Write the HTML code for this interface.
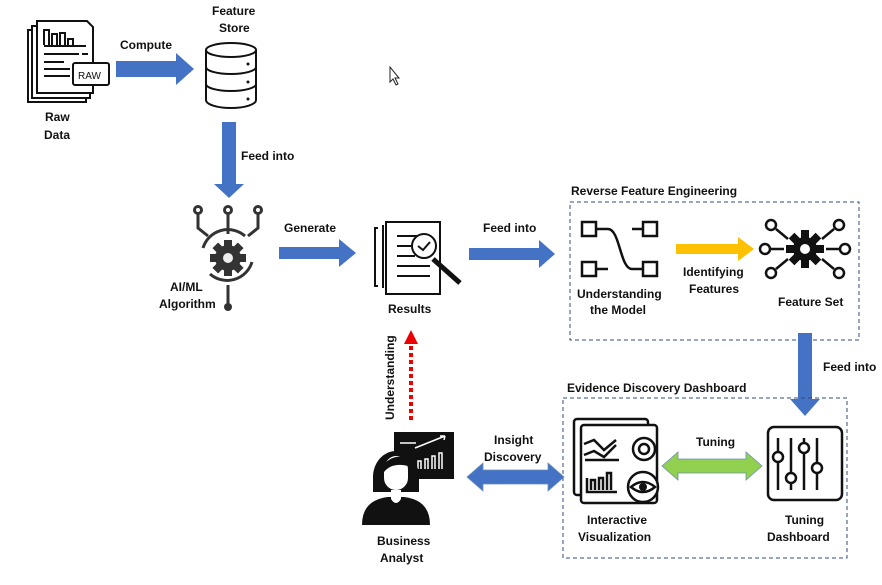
<!DOCTYPE html>
<html><head><style>
body{margin:0;background:#fff}
svg text{font-family:"Liberation Sans",sans-serif;font-weight:bold;font-size:12px;fill:#111}
</style></head><body>
<svg width="882" height="580" viewBox="0 0 882 580" xmlns="http://www.w3.org/2000/svg">
<defs>
<marker id="rh" markerWidth="8" markerHeight="8" refX="4" refY="4" orient="auto"><path d="M0,0 L8,4 L0,8z" fill="#e00"/></marker>
</defs>
<!-- Raw data icon -->
<g fill="#fff" stroke="#111" stroke-width="2">
<path d="M28,30 h50 l8,8 v64 h-58z"/>
<path d="M32,26 h50 l8,8 v64 h-58z"/>
<path d="M37,21 h50 l6,6 v66 h-56z"/>
<rect x="73" y="63" width="36" height="22" rx="2"/>
</g>
<text x="78" y="79" style="font-size:10px;font-weight:normal">RAW</text>
<g stroke="#111" stroke-width="2" fill="none">
<path d="M44,45 v-15 h5 v15 M52,45 v-11 h5 v11 M60,45 v-12 h5 v12 M68,45 v-6 h5 v6 M44,46 h42 M44,54 h35 M82,54 h6 M44,62 h20 M44,69 h26 M44,76 h26"/>
</g>
<text x="45" y="121">Raw</text><text x="44" y="139">Data</text>
<!-- Compute arrow -->
<path d="M116,61 h60 v-8 l18,16 l-18,16 v-8 h-60z" fill="#4472c4"/>
<text x="120" y="49">Compute</text>
<!-- DB -->
<text x="212" y="15">Feature</text><text x="219" y="32">Store</text>
<g fill="#fff" stroke="#111" stroke-width="2">
<path d="M206,50 v50 a25,8 0 0 0 50,0 v-50"/>
<ellipse cx="231" cy="50" rx="25" ry="7"/>
<path d="M206,67 a25,7 0 0 0 50,0 M206,84 a25,7 0 0 0 50,0" fill="none"/>
</g>
<circle cx="248" cy="64" r="1.5" fill="#111"/><circle cx="248" cy="82" r="1.5" fill="#111"/><circle cx="248" cy="99" r="1.5" fill="#111"/>
<!-- cursor -->
<path d="M390,67 v15 l3,-3 l3,6 l2,-1 l-3,-6 h4z" fill="#fff" stroke="#222" stroke-width="1"/>
<!-- feed down -->
<path d="M222,122 h14 v62 h8 l-15,14 l-15,-14 h8z" fill="#4472c4"/>
<text x="241" y="160">Feed into</text>
<!-- AI icon -->
<g stroke="#333" stroke-width="3" fill="none">
<circle cx="198" cy="210" r="3.5"/><circle cx="228" cy="210" r="3.5"/><circle cx="258" cy="210" r="3.5"/>
<path d="M198,214 v14 l10,8 M228,214 v20 M258,214 v14 l-10,8"/>
<path d="M203,248 a26,26 0 0 1 42,-12"/>
<path d="M252,262 a26,26 0 0 1 -42,12"/>
<path d="M228,285 v20"/>
</g>
<circle cx="228" cy="307" r="4" fill="#333"/>
<circle cx="228" cy="258" r="13" fill="#333"/>
<g fill="#333"><rect x="224" y="240" width="8" height="36"/><rect x="210" y="254" width="36" height="8"/><rect x="224" y="240" width="8" height="36" transform="rotate(45 228 258)"/><rect x="224" y="240" width="8" height="36" transform="rotate(-45 228 258)"/></g>
<circle cx="228" cy="258" r="5" fill="#eee"/>
<text x="170" y="291">AI/ML</text><text x="159" y="308">Algorithm</text>
<!-- Generate -->
<path d="M279,247 h60 v-8 l17,14 l-17,14 v-8 h-60z" fill="#4472c4"/>
<text x="284" y="232">Generate</text>
<!-- Results icon -->
<g stroke="#111" stroke-width="2" fill="#fff">
<path d="M378,228 h-3 v58 h3"/><path d="M383,225 v63"/>
<rect x="386" y="222" width="54" height="72"/>
<path d="M397,236 h20 M397,246 h15 M397,256 h18 M397,266 h33 M397,276 h33" fill="none"/>
<path d="M433,259 l27,24" stroke-width="5" fill="none"/>
<circle cx="424" cy="246" r="12"/>
<path d="M418,246 l5,4 l7,-8" fill="none"/>
</g>
<text x="388" y="313">Results</text>
<!-- feed right -->
<path d="M469,248 h70 v-8 l16,14 l-16,14 v-8 h-70z" fill="#4472c4"/>
<text x="483" y="232">Feed into</text>
<!-- RFE box -->
<text x="571" y="195">Reverse Feature Engineering</text>
<rect x="570" y="202" width="289" height="138" fill="none" stroke="#2f4b7c" stroke-dasharray="4,3"/>
<g stroke="#111" stroke-width="2.5" fill="none">
<rect x="582" y="222" width="14" height="14"/><rect x="643" y="222" width="14" height="14"/>
<rect x="582" y="262" width="14" height="14"/><rect x="643" y="262" width="14" height="14"/>
<path d="M596,229 h12 c12,0 12,40 24,40 h11 M596,269 h12 M632,229 h11"/>
</g>
<text x="577" y="298">Understanding</text><text x="590" y="314">the Model</text>
<path d="M676,244 h62 v-7 l16,12 l-16,12 v-7 h-62z" fill="#ffc000"/>
<text x="683" y="276">Identifying</text><text x="689" y="293">Features</text>
<!-- feature set icon -->
<g stroke="#111" stroke-width="2.5" fill="none">
<circle cx="771" cy="225" r="5"/><circle cx="839" cy="225" r="5"/><circle cx="765" cy="249" r="5"/><circle cx="845" cy="249" r="5"/><circle cx="771" cy="273" r="5"/><circle cx="839" cy="273" r="5"/>
<path d="M776,229 l12,10 M834,229 l-12,10 M770,249 h14 M840,249 h-14 M776,269 l12,-10 M834,269 l-12,-10"/>
</g>
<g fill="#111"><rect x="801" y="230" width="8" height="38"/><rect x="786" y="245" width="38" height="8"/><rect x="801" y="230" width="8" height="38" transform="rotate(45 805 249)"/><rect x="801" y="230" width="8" height="38" transform="rotate(-45 805 249)"/></g>
<circle cx="805" cy="249" r="12" fill="#111"/><circle cx="805" cy="249" r="5" fill="#fff"/>
<text x="778" y="306">Feature Set</text>
<!-- feed down right -->
<path d="M798,333 h14 v66 h8 l-15,17 l-15,-17 h8z" fill="#4472c4"/>
<text x="823" y="371">Feed into</text>
<!-- EDD box -->
<text x="567" y="392">Evidence Discovery Dashboard</text>
<rect x="563" y="398" width="284" height="160" fill="none" stroke="#2f4b7c" stroke-dasharray="4,3"/>
<!-- interactive viz icon -->
<g stroke="#111" stroke-width="2.5" fill="#fff">
<rect x="574" y="419" width="74" height="76" rx="3"/>
<rect x="581" y="425" width="76" height="78" rx="3"/>
<circle cx="644" cy="449" r="11"/><circle cx="644" cy="449" r="5"/>
<path d="M584,444 l10,-4 l10,10 l12,-10 M584,455 l10,-4 l10,6 l12,-12 M585,460 h34 M587,478 v14 h30 M591,490 v-10 h4 v10 M599,490 v-12 h4 v12 M607,490 v-17 h4 v17" fill="none"/>
<circle cx="643" cy="487" r="15"/>
<path d="M631,487 q12,-10 24,0 q-12,10 -24,0z"/>
</g>
<circle cx="643" cy="487" r="4" fill="#111"/>
<text x="587" y="524">Interactive</text><text x="578" y="541">Visualization</text>
<!-- green double arrow -->
<path d="M662,466 l16,-14 v7 h68 v-7 l16,14 l-16,14 v-7 h-68 v7z" fill="#92d050" stroke="#6b8fb5" stroke-width="0.8"/>
<text x="696" y="446">Tuning</text>
<!-- tuning dashboard -->
<rect x="768" y="427" width="74" height="73" rx="6" fill="#fff" stroke="#111" stroke-width="2.5"/>
<g stroke="#111" stroke-width="2.5" fill="#fff">
<path d="M778,438 v52 M791,438 v52 M804,438 v52 M817,438 v52"/>
<circle cx="778" cy="457" r="5"/><circle cx="791" cy="478" r="5"/><circle cx="804" cy="448" r="5"/><circle cx="817" cy="468" r="5"/>
</g>
<text x="785" y="524">Tuning</text><text x="767" y="541">Dashboard</text>
<!-- insight arrow -->
<path d="M467,477 l16,-14 v7 h65 v-7 l16,14 l-16,14 v-7 h-65 v7z" fill="#4472c4" stroke="#6b8fb5" stroke-width="0.8"/>
<text x="494" y="444">Insight</text><text x="484" y="461">Discovery</text>
<!-- understanding dotted -->
<line x1="411" y1="420" x2="411" y2="342" stroke="#e00" stroke-width="4" stroke-dasharray="4,3"/>
<path d="M404,344 l7,-14 l7,14z" fill="#e00"/>
<text transform="translate(394,420) rotate(-90)">Understanding</text>
<!-- analyst -->
<rect x="394" y="432" width="60" height="47" fill="#111"/>
<g stroke="#fff" stroke-width="1.5" fill="none"><path d="M400,443 h16 M415,448 l30,-12 M445,436 l-5,0 M445,436 l-1,4 M418,469 v-8 h3 v8 M425,469 v-10 h3 v10 M432,469 v-13 h3 v13 M439,469 v-16 h3 v16"/></g>
<path d="M373,477 a23,26 0 0 1 46,0 v15 h-46z" fill="#111"/>
<path d="M384,470 a12,14 0 0 1 24,0 v8 a12,12 0 0 1 -24,0z" fill="#fff"/>
<path d="M384,472 q8,-10 24,-6 v-6 q-12,-8 -24,4z" fill="#111"/>
<path d="M362,525 q0,-25 26,-28 h16 q26,3 26,28z" fill="#111"/>
<path d="M391,490 h10 v9 q-5,8 -10,0z" fill="#fff"/>
<text x="377" y="545">Business</text><text x="380" y="562">Analyst</text>
</svg>
</body></html>
